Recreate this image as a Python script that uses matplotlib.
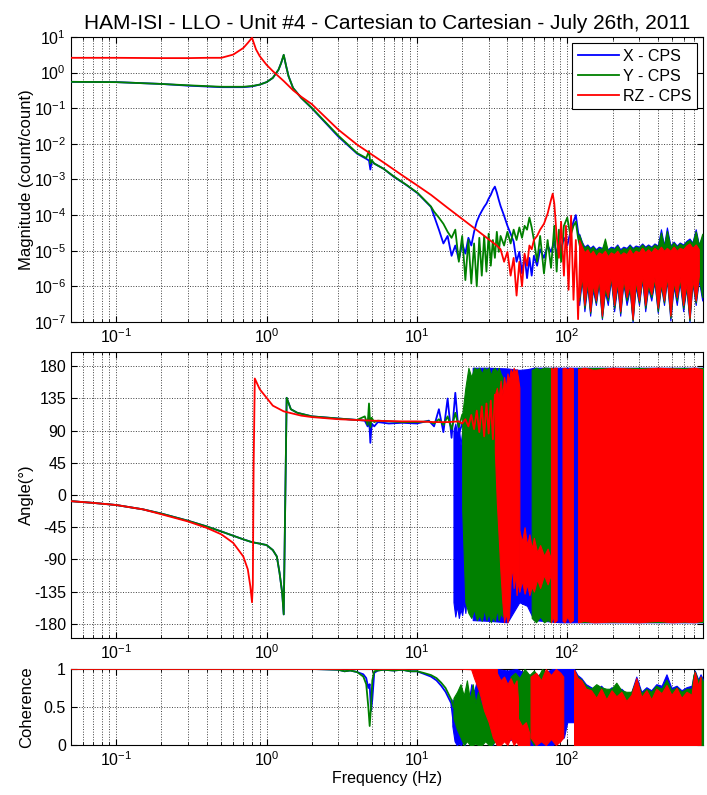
import matplotlib
matplotlib.use('Agg')
import matplotlib.pyplot as plt

plt.rcParams['font.family'] = ['Liberation Sans', 'DejaVu Sans']
plt.rcParams['mathtext.fontset'] = 'custom'
plt.rcParams['mathtext.rm'] = 'Liberation Sans'
plt.rcParams['mathtext.it'] = 'Liberation Sans:italic'
plt.rcParams['axes.unicode_minus'] = False

BLUE, GREEN, RED = '#0000ff', '#008000', '#ff0000'
LABELS = ['X - CPS', 'Y - CPS', 'RZ - CPS']

# ---------------- magnitude ----------------
MAG_F_LOW = [0.05, 0.1, 0.2, 0.3, 0.5, 0.7, 0.8, 0.9, 1.0, 1.1, 1.2, 1.25, 1.3, 1.35, 1.4,
             1.5, 1.7, 2.0, 3.0, 4.0, 4.6, 4.8, 4.9, 5.0, 5.2, 6.0, 7.0, 8.5, 10.1, 12.4]
X_MAG_LOW = [0.55, 0.54, 0.48, 0.43, 0.39, 0.39, 0.41, 0.46, 0.54, 0.71, 1.2, 1.86, 3.1, 1.5, 0.79,
             0.37, 0.195, 0.100, 0.016, 5.3e-3, 3.8e-3, 3.4e-3, 1.9e-3, 3.2e-3, 2.8e-3, 2.0e-3, 1.2e-3, 7.0e-4, 4.1e-4, 1.7e-4]
Y_MAG_LOW = [0.55, 0.54, 0.48, 0.44, 0.40, 0.40, 0.42, 0.46, 0.54, 0.71, 1.2, 1.86, 3.16, 1.5, 0.79,
             0.37, 0.195, 0.102, 0.017, 5.5e-3, 4.0e-3, 6.3e-3, 2.8e-3, 3.5e-3, 2.8e-3, 2.0e-3, 1.23e-3, 7.1e-4, 4.2e-4, 1.74e-4]

NOISE_F = [13, 14, 15, 16, 17, 18, 19, 20, 21, 22, 23, 24, 25, 26, 27, 28, 29, 30, 31, 32, 33, 34, 35, 36,
           38, 40, 42, 44, 46, 48, 50, 52, 54, 56, 58, 60, 63, 66, 70, 74, 78, 82, 85, 88, 91, 95,
           100, 105, 110, 114, 118, 122, 126]
X_MAG_NOISE = [9.5e-5, 3.9e-5, 1.6e-5, 2.6e-5, 7.2e-6, 1.4e-5, 5.6e-6, 1.6e-5, 8.3e-6, 2.3e-5, 1.4e-5, 3.4e-5,
               6.5e-5, 9.6e-5, 1.3e-4, 1.7e-4, 2.1e-4, 2.9e-4, 3.7e-4, 5.1e-4, 6.3e-4, 4.3e-4, 2.7e-4, 1.8e-4,
               9.6e-5, 5.0e-5, 3.0e-5, 1.8e-5, 4.9e-6, 9.3e-6, 2.3e-6, 7.2e-6, 1.7e-6, 6.3e-6, 2.0e-6, 7.2e-6,
               3.8e-6, 1.1e-5, 6.3e-6, 1.4e-5, 9.3e-6, 1.8e-5, 7.2e-6, 2.0e-5, 1.1e-5, 2.3e-5,
               1.4e-5, 3.4e-5, 6.5e-5, 1.0e-4, 3.4e-5, 1.4e-5, 9.3e-6]
Y_MAG_NOISE = [1.25e-4, 8.5e-5, 5.7e-5, 3.4e-5, 2.3e-5, 3.9e-5, 4.9e-6, 2.6e-5, 1.5e-6, 2.0e-5, 1.2e-6, 1.6e-5,
               1.0e-6, 2.3e-5, 2.0e-6, 2.6e-5, 2.6e-6, 3.0e-5, 3.8e-6, 2.0e-5, 6.3e-6, 3.4e-5, 9.3e-6, 2.6e-5,
               1.4e-5, 3.4e-5, 1.6e-5, 3.9e-5, 2.0e-5, 4.5e-5, 2.3e-5, 5.0e-5, 3.9e-5, 8.5e-5, 4.5e-5, 2.0e-5,
               4.9e-6, 2.6e-5, 2.3e-6, 2.0e-5, 3.3e-6, 5.0e-5, 2.6e-6, 3.9e-5, 4.9e-6, 5.0e-5,
               8.5e-5, 2.6e-5, 5.0e-5, 6.5e-5, 2.3e-5, 1.2e-5, 8.3e-6]

RZ_MAG_F = [0.05, 0.1, 0.2, 0.3, 0.4, 0.5, 0.6, 0.7, 0.75, 0.8, 0.85, 0.9, 1.0, 1.1, 1.3,
            1.5, 1.7, 2.0, 3.0, 4.0, 6.0, 8.0, 10, 12.4, 16, 20, 25, 30, 34, 36,
            38, 40, 42, 44, 46, 48, 50, 52, 54, 56, 58, 60, 63, 66, 70,
            74, 78, 80, 82, 85, 88, 91, 95, 98, 102, 106, 110, 114, 118, 122]
RZ_MAG = [2.6, 2.6, 2.55, 2.55, 2.6, 2.6, 3.2, 4.9, 6.8, 9.5, 4.5, 2.9, 1.65, 1.1, 0.58,
          0.32, 0.21, 0.13, 0.025, 9.5e-3, 3.0e-3, 1.3e-3, 6.9e-4, 3.7e-4, 1.6e-4, 7.8e-5, 3.8e-5, 2.1e-5, 1.4e-5, 1.1e-5,
          4.9e-6, 9.3e-6, 2.0e-6, 6.3e-6, 5.5e-7, 4.9e-6, 1.0e-6, 8.3e-6, 3.8e-6, 1.4e-5, 1.1e-5, 2.0e-5, 2.6e-5, 3.9e-5, 5.7e-5,
          1.1e-4, 2.7e-4, 4.0e-4, 2.1e-4, 2.6e-5, 6.3e-6, 6.5e-5, 2.0e-6, 5.0e-5, 8e-7, 9.6e-5, 4.2e-7, 2.0e-5, 1.2e-7, 1.1e-5]

# dense noise floor above ~120 Hz (upper / lower envelope)
BAND_F = [120, 125, 130, 136, 142, 148, 155, 162, 170, 178, 186, 195, 205, 215, 225, 236, 248, 260, 272, 285,
          300, 315, 330, 345, 362, 380, 400, 420, 440, 460, 485, 510, 535, 560, 590, 620, 650, 680, 715, 750, 790]
X_BAND_HI = [3e-5, 1.8e-5, 1.3e-5, 1.5e-5, 1.2e-5, 1.4e-5, 1.1e-5, 1.3e-5, 1.2e-5, 1.4e-5,
             1.1e-5, 1.3e-5, 1.2e-5, 1.5e-5, 1.1e-5, 1.3e-5, 1.2e-5, 1.5e-5, 1.2e-5, 1.4e-5,
             1.3e-5, 1.6e-5, 1.3e-5, 1.5e-5, 1.3e-5, 1.6e-5, 1.4e-5, 4e-5, 1.4e-5, 4.5e-5,
             1.4e-5, 1.8e-5, 1.4e-5, 1.7e-5, 1.5e-5, 1.9e-5, 2.2e-5, 1.7e-5, 4e-5, 1.5e-5, 2.5e-5]
X_BAND_LO = [3e-7, 1.5e-6, 2e-7, 1e-6, 1.5e-7, 8e-7, 3e-7, 1.2e-6, 1.2e-7, 7e-7,
             3e-7, 1.5e-6, 2e-7, 1e-6, 1.5e-7, 1.2e-6, 3e-7, 8e-7, 1e-7, 1e-6,
             3e-7, 1.5e-6, 2e-7, 9e-7, 4e-7, 1.3e-6, 1.8e-7, 1e-6, 3e-7, 1.5e-6,
             1.1e-7, 1e-6, 3e-7, 1.3e-6, 2e-7, 9e-7, 1e-7, 1.2e-6, 3e-7, 1.5e-6, 4e-7]
Y_BAND_HI = [2.8e-5, 1.7e-5, 1.2e-5, 1.4e-5, 1.1e-5, 1.3e-5, 1.0e-5, 1.2e-5, 1.1e-5, 2.2e-5,
             1.0e-5, 1.2e-5, 1.1e-5, 1.4e-5, 1.0e-5, 1.2e-5, 1.1e-5, 1.4e-5, 1.1e-5, 1.3e-5,
             1.2e-5, 1.5e-5, 1.2e-5, 1.4e-5, 1.2e-5, 1.5e-5, 1.3e-5, 3.2e-5, 1.3e-5, 3.6e-5,
             1.3e-5, 1.7e-5, 1.3e-5, 1.6e-5, 1.4e-5, 1.8e-5, 2.0e-5, 1.6e-5, 3.5e-5, 1.4e-5, 3e-5]
Y_BAND_LO = [4e-7, 1.8e-6, 2.5e-7, 1.2e-6, 1.8e-7, 1e-6, 3.5e-7, 1.5e-6, 1.3e-7, 8e-7,
             4e-7, 1.8e-6, 2.5e-7, 1.2e-6, 1.8e-7, 1.4e-6, 4e-7, 9e-7, 1.1e-7, 1.2e-6,
             3.5e-7, 1.8e-6, 2.5e-7, 1e-6, 5e-7, 1.5e-6, 2e-7, 1.1e-6, 3.5e-7, 1.8e-6,
             1.3e-7, 1.2e-6, 4e-7, 1.5e-6, 2.5e-7, 1e-6, 1.1e-7, 1.4e-6, 3.5e-7, 1.8e-6, 5e-7]
RZ_BAND_HI = [2.0e-5, 1.3e-5, 9e-6, 1.1e-5, 8e-6, 1.0e-5, 7e-6, 9e-6, 8e-6, 1.0e-5,
              7e-6, 9e-6, 8e-6, 1.0e-5, 7.5e-6, 9e-6, 8e-6, 1.1e-5, 8e-6, 1.0e-5,
              9e-6, 1.2e-5, 9e-6, 1.1e-5, 9e-6, 1.2e-5, 1.0e-5, 1.3e-5, 1.0e-5, 1.2e-5,
              1.0e-5, 1.3e-5, 1.0e-5, 1.2e-5, 1.1e-5, 1.4e-5, 1.6e-5, 1.2e-5, 1.5e-5, 1.1e-5, 1.3e-5]
RZ_BAND_LO = [5e-7, 2e-6, 3e-7, 1.5e-6, 2e-7, 1.2e-6, 4e-7, 1.8e-6, 1.5e-7, 1e-6,
              5e-7, 2e-6, 3e-7, 1.4e-6, 2e-7, 1.6e-6, 5e-7, 1.1e-6, 1.2e-7, 1.5e-6,
              4e-7, 2e-6, 3e-7, 1.2e-6, 6e-7, 1.8e-6, 2.5e-7, 1.3e-6, 4e-7, 2e-6,
              1.5e-7, 1.4e-6, 5e-7, 1.8e-6, 3e-7, 1.2e-6, 1.3e-7, 1.6e-6, 4e-7, 2e-6, 6e-7]

# ---------------- phase ----------------
PH_F_XY = [0.05, 0.07, 0.1, 0.15, 0.2, 0.3, 0.4, 0.5, 0.6, 0.7, 0.8, 0.9, 1.0, 1.1, 1.17,
           1.22, 1.27, 1.3, 1.36, 1.45, 1.6, 2.0, 3.0, 4.0, 4.5, 4.7, 4.8, 4.9, 5.0, 5.2,
           5.5, 6.5, 8.0, 10, 12, 13, 14, 15, 16, 17, 18, 19, 20]
X_PH = [-8.6, -11, -14, -20, -26, -36, -44, -51, -57, -62, -66, -68, -70, -77, -86,
        -109, -137, -167, 136, 120, 115, 110, 107, 105, 104, 96, 110, 73, 100, 96,
        102, 100, 101, 100, 104, 96, 120, 88, 135, 80, 143, 85, 100]
Y_PH = [-8.6, -11, -14, -20, -26, -36, -44, -51, -57, -62, -66, -68, -70, -77, -86,
        -109, -137, -167, 136, 120, 115, 110, 107, 105, 110, 98, 128, 95, 108, 102,
        104, 103, 102, 102, 103, 100, 106, 98, 110, 92, 115, 95, 112]
PH_F_RZ = [0.05, 0.07, 0.1, 0.15, 0.2, 0.3, 0.4, 0.5, 0.6, 0.7, 0.75, 0.78, 0.80, 0.81, 0.82,
           0.835, 0.9, 1.0, 1.1, 1.3, 1.7, 2.0, 3.0, 5.0, 8.0, 10, 13, 16, 19, 20,
           21, 22, 23, 24, 25, 26, 27, 28, 29, 30, 31, 32, 33]
RZ_PH = [-8.6, -11, -14, -20, -27, -37, -46, -55, -67, -86, -104, -128, -150, -125, 40,
         163, 148, 136, 125, 117, 111, 109, 106, 104, 103, 103, 102, 102, 103, 100,
         106, 96, 112, 92, 118, 88, 124, 82, 128, 86, 132, 78, 140]

X_PH_BANDS = [
    ([17.5, 18, 18.5, 19, 19.5, 20, 20.5, 21, 21.5, 22, 22.5, 23, 23.5],
     [-150, -170, -155, -172, -160, -168, -150, -165, -140, -160, -150, -165, -145],
     [90, 100, 85, 95, 70, 90, 20, 40, -10, 0, -30, 10, -40]),
    ([23.5, 30, 40, 48, 54, 60, 90, 200, 800],
     [-175, -176, -178, -150, -155, -175, -178, -178, -178],
     [178, 178, 177, 175, 176, 178, 178, 178, 178]),
]
Y_PH_BANDS = [
    ([20, 21, 22, 23, 24, 25, 26, 27, 28, 29, 30, 31, 32, 33, 34, 35, 36, 37],
     [-20, -150, -165, -172, -160, -175, -168, -176, -160, -175, -165, -178, -170, -176, -160, -175, -165, -170],
     [112, 150, 178, 165, 178, 176, 178, 170, 178, 175, 178, 168, 176, 178, 172, 178, 170, 165]),
    ([58, 62, 66, 70, 74, 78, 80],
     [-172, -178, -170, -178, -175, -178, -170],
     [175, 178, 176, 178, 178, 177, 178]),
    ([118, 300, 800], [-178, -178, -178], [178, 178, 178]),
]
RZ_PH_BANDS = [
    ([33, 34, 35, 36, 37, 38, 39, 40, 41, 42, 43, 44, 45, 46, 47, 48],
     [60, -10, -60, -110, -150, -178, -165, -178, -170, -120, -100, -130, -110, -140, -120, -135],
     [140, 150, 135, 160, 140, 165, 150, 170, 160, 176, 170, 178, 172, 176, 165, 150]),
    ([48, 50, 52, 54, 56, 58, 60, 63, 66, 70, 74, 78],
     [-135, -120, -138, -125, -140, -128, -135, -118, -130, -112, -125, -110],
     [-50, -65, -45, -70, -55, -75, -60, -80, -70, -85, -75, -90]),
    ([78, 80, 82, 85], [-178, -170, -178, -175], [178, 176, 178, 178]),
    ([93, 96, 100, 104, 109], [-176, -178, -170, -178, -175], [177, 178, 176, 178, 177]),
    ([118, 130, 150, 200, 300, 400, 500, 600, 700, 786],
     [-178, -176, -178, -177, -178, -176, -178, -177, -178, -176],
     [176, 178, 175, 178, 176, 178, 177, 176, 178, 176]),
]

# ---------------- coherence ----------------
COH_F_LOW = [0.05, 1, 2, 2.5, 3, 3.3, 3.6, 4.0, 4.4, 4.6, 4.75, 4.85, 4.95, 5.05, 5.2, 5.5, 6.0, 7.0,
             8.0, 9.0, 10, 11, 12.4, 13.5, 14.5, 15.5, 16.9, 17.5]
X_COH = [1, 1, 1, 0.995, 0.99, 0.97, 0.98, 0.96, 0.93, 0.88, 0.75, 0.8, 0.45, 0.6, 0.95, 0.98, 0.99, 0.98,
         0.99, 0.97, 0.97, 0.94, 0.9, 0.85, 0.78, 0.7, 0.55, 0.3]
Y_COH = [1, 1, 1, 0.995, 0.99, 0.97, 0.98, 0.96, 0.9, 0.8, 0.5, 0.25, 0.5, 0.85, 0.97, 0.98, 0.99, 0.98,
         0.99, 0.97, 0.97, 0.95, 0.92, 0.88, 0.82, 0.75, 0.6, 0.5]
RZ_COH_F = [0.05, 5, 10, 20, 23.5]
RZ_COH = [1, 1, 1, 1, 0.995]

COH_BAND_F = [111, 117, 124, 133, 144, 156, 168, 182, 197, 212, 229, 247, 267, 288, 311, 336, 362, 391,
              424, 457, 493, 533, 575, 621, 671, 690, 705, 743, 770, 800]
X_COH_HI = [1.0, 0.92, 0.88, 0.8, 0.76, 0.72, 0.78, 0.7, 0.76, 0.72, 0.74, 0.68, 0.7, 0.9, 0.7, 0.76, 0.72, 0.8,
            0.78, 0.93, 0.75, 0.78, 0.72, 0.76, 0.78, 0.9, 0.98, 0.86, 0.93, 0.86]
Y_COH_HI = [0.98, 0.9, 0.86, 0.78, 0.74, 0.8, 0.76, 0.74, 0.74, 0.82, 0.72, 0.7, 0.7, 0.86, 0.68, 0.74, 0.7, 0.78,
            0.74, 0.86, 0.72, 0.76, 0.7, 0.74, 0.74, 0.92, 0.97, 0.84, 0.9, 0.84]
RZ_COH_HI = [0.99, 0.88, 0.85, 0.74, 0.72, 0.62, 0.74, 0.6, 0.72, 0.64, 0.7, 0.58, 0.66, 0.88, 0.63, 0.72, 0.6, 0.74,
             0.68, 0.79, 0.66, 0.75, 0.62, 0.7, 0.66, 0.85, 0.96, 0.78, 0.9, 0.8]
COH_ZERO = [0] * len(COH_BAND_F)

X_COH_BANDS = [
    ([17.2, 17.8, 18.4, 19, 19.6, 20.2, 20.8, 21.5, 22.2, 23, 24, 25, 26, 27, 28, 29, 30, 31, 32, 33, 34],
     [0.25, 0.05, 0.0, 0.02, 0, 0.05, 0, 0.1, 0.05, 0.2, 0.1, 0.25, 0.15, 0.3, 0.1, 0.2, 0.05, 0.15, 0, 0.1, 0],
     [0.6, 0.55, 0.45, 0.6, 0.35, 0.55, 0.4, 0.7, 0.6, 0.8, 0.7, 0.85, 0.75, 0.88, 0.8, 0.9, 0.85, 0.95, 0.9, 1.0, 0.95]),
    ([34, 40, 46, 52, 60, 80, 95, 100, 111],
     [0.1, 0.05, 0.1, 0, 0, 0, 0.1, 0.3, 0.3],
     [1.0, 0.98, 1.0, 0.95, 0.9, 1.0, 1.0, 1.0, 1.0]),
    (COH_BAND_F, COH_ZERO, X_COH_HI),
]
Y_COH_BANDS = [
    ([17.5, 18.5, 19.5, 20.5, 21.5, 22.5, 23.5, 24.5, 25.5, 27, 28.5, 30, 31.5, 33, 34.5, 36],
     [0.35, 0.2, 0.1, 0, 0.05, 0, 0, 0.02, 0, 0, 0.05, 0, 0, 0.05, 0, 0],
     [0.62, 0.7, 0.8, 0.65, 0.85, 0.6, 0.8, 0.55, 0.7, 0.5, 0.65, 0.45, 0.6, 0.4, 0.55, 0.3]),
    ([42, 45, 48, 52, 56, 60, 64, 68, 72, 76],
     [0.3, 0.15, 0.2, 0.05, 0.1, 0, 0.1, 0.05, 0.15, 0.2],
     [0.9, 0.95, 0.88, 1.0, 0.92, 0.98, 0.9, 1.0, 0.95, 0.9]),
    (COH_BAND_F, COH_ZERO, Y_COH_HI),
]
RZ_COH_BANDS = [
    ([23, 24, 26, 28, 30, 32, 34], [0.99, 0.88, 0.7, 0.45, 0.3, 0.1, 0], [1, 1, 1, 1, 1, 1, 1]),
    ([34, 36, 38, 40, 42, 44, 46, 47],
     [0, 0, 0.05, 0, 0.1, 0, 0.05, 0],
     [0.95, 0.85, 0.9, 0.8, 0.88, 0.78, 0.85, 0.6]),
    ([47, 50, 53, 56], [0, 0, 0, 0], [0.35, 0.25, 0.3, 0.15]),
    ([57, 62, 67, 72, 78, 84, 90, 94],
     [0.1, 0, 0.05, 0, 0.08, 0, 0.05, 0.1],
     [0.9, 0.95, 0.85, 1.0, 0.92, 1.0, 0.95, 0.9]),
    (COH_BAND_F[:-1], COH_ZERO[:-1], RZ_COH_HI[:-1]),
]


def draw(ax, f, v, color, z, bands=(), label=None):
    line, = ax.plot(f, v, color=color, lw=1.3, zorder=z, label=label)
    for bf, lo, hi in bands:
        ax.fill_between(bf, lo, hi, facecolor=color, edgecolor=color, lw=0.8, zorder=z)
    return line


fig = plt.figure(figsize=(7.07, 7.95), dpi=100)
ax1 = fig.add_axes([0.1004, 0.595, 0.894, 0.3585])
ax2 = fig.add_axes([0.1004, 0.1975, 0.894, 0.3597])
ax3 = fig.add_axes([0.1004, 0.0629, 0.894, 0.0956])

# magnitude
h1 = draw(ax1, MAG_F_LOW + NOISE_F, X_MAG_LOW + X_MAG_NOISE, BLUE, 3,
          [(BAND_F, X_BAND_LO, X_BAND_HI)], LABELS[0])
h2 = draw(ax1, MAG_F_LOW + NOISE_F, Y_MAG_LOW + Y_MAG_NOISE, GREEN, 4,
          [(BAND_F, Y_BAND_LO, Y_BAND_HI)], LABELS[1])
h3 = draw(ax1, RZ_MAG_F, RZ_MAG, RED, 5, [(BAND_F[:-1], RZ_BAND_LO[:-1], RZ_BAND_HI[:-1])], LABELS[2])
ax1.set_yscale('log')
ax1.set_ylim(1e-7, 1e1)
ax1.set_yticks([1e-7, 1e-6, 1e-5, 1e-4, 1e-3, 1e-2, 1e-1, 1e0, 1e1])
ax1.set_ylabel('Magnitude (count/count)', fontsize=12)
ax1.set_title('HAM-ISI - LLO - Unit #4 - Cartesian to Cartesian - July 26th, 2011', fontsize=15, pad=6)
leg = ax1.legend(handles=[h1, h2, h3], loc='upper right', fancybox=False, edgecolor='k', framealpha=1,
                 fontsize=11.5, handlelength=2.6, borderpad=0.35, labelspacing=0.3, handletextpad=0.2,
                 borderaxespad=0.4)
leg.get_frame().set_linewidth(0.8)
leg.set_zorder(10)

# phase
draw(ax2, PH_F_XY, X_PH, BLUE, 3, X_PH_BANDS)
draw(ax2, PH_F_XY, Y_PH, GREEN, 4, Y_PH_BANDS)
draw(ax2, PH_F_RZ, RZ_PH, RED, 5, RZ_PH_BANDS)
ax2.set_ylim(-200, 200)
ax2.set_yticks(range(-180, 181, 45))
ax2.set_ylabel('Angle(°)', fontsize=12)

# coherence
draw(ax3, COH_F_LOW, X_COH, BLUE, 3, X_COH_BANDS)
draw(ax3, COH_F_LOW, Y_COH, GREEN, 4, Y_COH_BANDS)
draw(ax3, RZ_COH_F, RZ_COH, RED, 5, RZ_COH_BANDS)
ax3.set_ylim(0, 1)
ax3.set_yticks([0, 0.5, 1])
ax3.set_yticklabels(['0', '0.5', '1'])
ax3.set_ylabel('Coherence', fontsize=12)
ax3.set_xlabel('Frequency (Hz)', fontsize=11.5, labelpad=2)

for ax in (ax1, ax2, ax3):
    ax.set_xscale('log')
    ax.set_xlim(0.05, 800)
    ax.set_axisbelow(True)
    ax.grid(which='major', ls=':', color='0.25', lw=0.7)
    ax.grid(which='minor', axis='x', ls=':', color='0.25', lw=0.7)
    ax.tick_params(which='both', direction='in', top=True, right=True, labelsize=11.5)
    ax.tick_params(which='major', length=4)
    ax.tick_params(which='minor', length=2)
    ax.yaxis.set_label_coords(-0.058, 0.5)
    for s in ax.spines.values():
        s.set_linewidth(0.8)
ax1.grid(which='minor', axis='y', ls=':', color='0.25', lw=0.7)

fig.savefig('out.png', dpi=100)
